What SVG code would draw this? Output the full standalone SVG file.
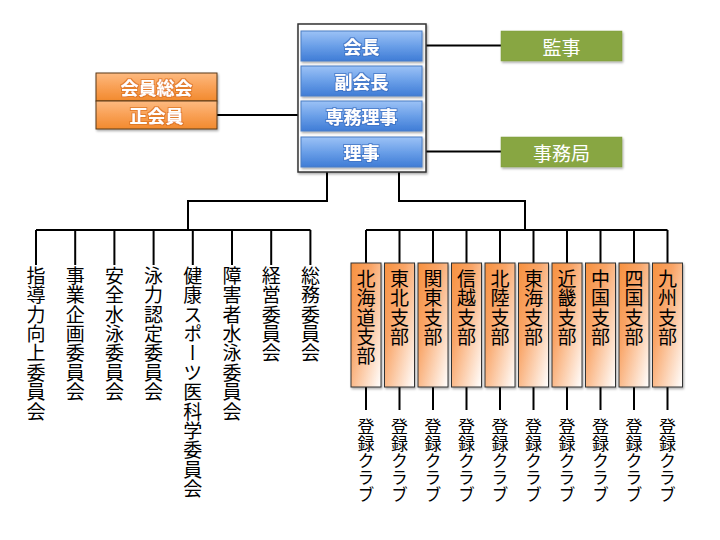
<svg xmlns="http://www.w3.org/2000/svg" width="720" height="540" viewBox="0 0 720 540">
<defs>
<linearGradient id="gBlue" x1="0" y1="0" x2="0" y2="1">
<stop offset="0" stop-color="#9CC2F6"/>
<stop offset="0.5" stop-color="#6A9FE8"/>
<stop offset="1" stop-color="#3F7CD6"/>
</linearGradient>
<linearGradient id="gOrange" x1="0" y1="0" x2="0" y2="1">
<stop offset="0" stop-color="#FDBA80"/>
<stop offset="0.5" stop-color="#F9A055"/>
<stop offset="1" stop-color="#F28A2E"/>
</linearGradient>
<linearGradient id="gBranch" x1="0" y1="0" x2="1" y2="1">
<stop offset="0" stop-color="#F7913F"/>
<stop offset="0.35" stop-color="#F9A466"/>
<stop offset="1" stop-color="#FFFFFF"/>
</linearGradient>
<filter id="sh" x="-20%" y="-20%" width="140%" height="140%">
<feDropShadow dx="1" dy="1.5" stdDeviation="1" flood-color="#000" flood-opacity="0.35"/>
</filter>
<filter id="glowB" x="-20%" y="-40%" width="140%" height="180%">
<feMorphology in="SourceAlpha" operator="dilate" radius="1" result="d"/>
<feFlood flood-color="#3A6FC0" flood-opacity="0.7"/>
<feComposite in2="d" operator="in" result="g"/>
<feMerge><feMergeNode in="g"/><feMergeNode in="SourceGraphic"/></feMerge>
</filter>
<filter id="glowO" x="-20%" y="-40%" width="140%" height="180%">
<feMorphology in="SourceAlpha" operator="dilate" radius="1" result="d"/>
<feFlood flood-color="#D9701E" flood-opacity="0.7"/>
<feComposite in2="d" operator="in" result="g"/>
<feMerge><feMergeNode in="g"/><feMergeNode in="SourceGraphic"/></feMerge>
</filter>
</defs>
<style>
text{font-family:"Noto Sans CJK JP","Noto Sans CJK SC",sans-serif;}
.conn{fill:none;stroke:#000;stroke-width:2;}
.blue{fill:url(#gBlue);stroke:#4A7EC4;stroke-width:1;}
.org{fill:url(#gOrange);stroke:#5A3A1A;stroke-width:1;}
.grn{fill:#88A642;stroke:#7C9A3C;stroke-width:0.5;}
.br{fill:url(#gBranch);stroke:#333;stroke-width:1;}
.wt{fill:#fff;font-size:18px;font-weight:bold;text-anchor:middle;dominant-baseline:central;}
.gt{fill:#fff;font-size:19px;text-anchor:middle;dominant-baseline:central;}
.vt{fill:#000;font-size:19px;letter-spacing:0.4px;writing-mode:vertical-rl;text-anchor:start;}
.ct{fill:#000;font-size:17px;writing-mode:vertical-rl;text-anchor:start;}
</style>

<g id="connectors">
<path class="conn" d="M426 45.5H501M426 151.5H501M217 115H298"/>
<path class="conn" d="M327 172V201H188V230M36 230H310.5"/>
<path class="conn" d="M36 230V265M75.2 230V265M114.4 230V265M153.6 230V265M192.8 230V265M232 230V265M271.2 230V265M310.4 230V265"/>
<path class="conn" d="M399 172V201H525V230M366 230H667.5"/>
<path class="conn" d="M366 230V263M399.5 230V263M433 230V263M466.5 230V263M500 230V263M533.5 230V263M567 230V263M600.5 230V263M634 230V263M667.5 230V263"/>
<path class="conn" d="M366 387V410M399.5 387V410M433 387V410M466.5 387V410M500 387V410M533.5 387V410M567 387V410M600.5 387V410M634 387V410M667.5 387V410"/>
</g>

<g id="executive">
<rect x="298" y="24" width="128" height="148" fill="#fff" stroke="#333" stroke-width="1.5" filter="url(#sh)"/>
</g>
<g id="kaicho"><rect class="blue" x="301" y="31" width="121" height="30" filter="url(#sh)"/><text class="wt" x="361.5" y="46" filter="url(#glowB)">会長</text></g>
<g id="fukukaicho"><rect class="blue" x="301" y="66" width="121" height="30" filter="url(#sh)"/><text class="wt" x="361.5" y="81" filter="url(#glowB)">副会長</text></g>
<g id="senmu"><rect class="blue" x="301" y="101" width="121" height="30" filter="url(#sh)"/><text class="wt" x="361.5" y="116" filter="url(#glowB)">専務理事</text></g>
<g id="riji"><rect class="blue" x="301" y="137" width="121" height="30" filter="url(#sh)"/><text class="wt" x="361.5" y="152" filter="url(#glowB)">理事</text></g>

<g id="kanji"><rect class="grn" x="501" y="31" width="121" height="30" filter="url(#sh)"/><text class="gt" x="561.5" y="46">監事</text></g>
<g id="jimukyoku"><rect class="grn" x="501" y="137" width="121" height="30" filter="url(#sh)"/><text class="gt" x="561.5" y="152">事務局</text></g>

<g id="sokai"><rect class="org" x="96" y="73" width="121" height="28" filter="url(#sh)"/><text class="wt" x="156.5" y="87" filter="url(#glowO)">会員総会</text></g>
<g id="seikaiin"><rect class="org" x="96" y="101" width="121" height="28" filter="url(#sh)"/><text class="wt" x="156.5" y="115" filter="url(#glowO)">正会員</text></g>

<g id="committees">
<text class="vt" x="36" y="266">指導力向上委員会</text>
<text class="vt" x="75.2" y="266">事業企画委員会</text>
<text class="vt" x="114.4" y="266">安全水泳委員会</text>
<text class="vt" x="153.6" y="266">泳力認定委員会</text>
<text class="vt" x="192.8" y="266">健康スポーツ医科学委員会</text>
<text class="vt" x="232" y="266">障害者水泳委員会</text>
<text class="vt" x="271.2" y="266">経営委員会</text>
<text class="vt" x="310.4" y="266">総務委員会</text>
</g>

<g id="b1"><rect class="br" x="351" y="263" width="30" height="124" filter="url(#sh)"/><text class="vt" x="366" y="269">北海道支部</text></g>
<g id="b2"><rect class="br" x="384.5" y="263" width="30" height="124" filter="url(#sh)"/><text class="vt" x="399.5" y="269">東北支部</text></g>
<g id="b3"><rect class="br" x="418" y="263" width="30" height="124" filter="url(#sh)"/><text class="vt" x="433" y="269">関東支部</text></g>
<g id="b4"><rect class="br" x="451.5" y="263" width="30" height="124" filter="url(#sh)"/><text class="vt" x="466.5" y="269">信越支部</text></g>
<g id="b5"><rect class="br" x="485" y="263" width="30" height="124" filter="url(#sh)"/><text class="vt" x="500" y="269">北陸支部</text></g>
<g id="b6"><rect class="br" x="518.5" y="263" width="30" height="124" filter="url(#sh)"/><text class="vt" x="533.5" y="269">東海支部</text></g>
<g id="b7"><rect class="br" x="552" y="263" width="30" height="124" filter="url(#sh)"/><text class="vt" x="567" y="269">近畿支部</text></g>
<g id="b8"><rect class="br" x="585.5" y="263" width="30" height="124" filter="url(#sh)"/><text class="vt" x="600.5" y="269">中国支部</text></g>
<g id="b9"><rect class="br" x="619" y="263" width="30" height="124" filter="url(#sh)"/><text class="vt" x="634" y="269">四国支部</text></g>
<g id="b10"><rect class="br" x="652.5" y="263" width="30" height="124" filter="url(#sh)"/><text class="vt" x="667.5" y="269">九州支部</text></g>

<g id="clubs">
<text class="ct" x="366" y="418">登録クラブ</text>
<text class="ct" x="399.5" y="418">登録クラブ</text>
<text class="ct" x="433" y="418">登録クラブ</text>
<text class="ct" x="466.5" y="418">登録クラブ</text>
<text class="ct" x="500" y="418">登録クラブ</text>
<text class="ct" x="533.5" y="418">登録クラブ</text>
<text class="ct" x="567" y="418">登録クラブ</text>
<text class="ct" x="600.5" y="418">登録クラブ</text>
<text class="ct" x="634" y="418">登録クラブ</text>
<text class="ct" x="667.5" y="418">登録クラブ</text>
</g>
</svg>
